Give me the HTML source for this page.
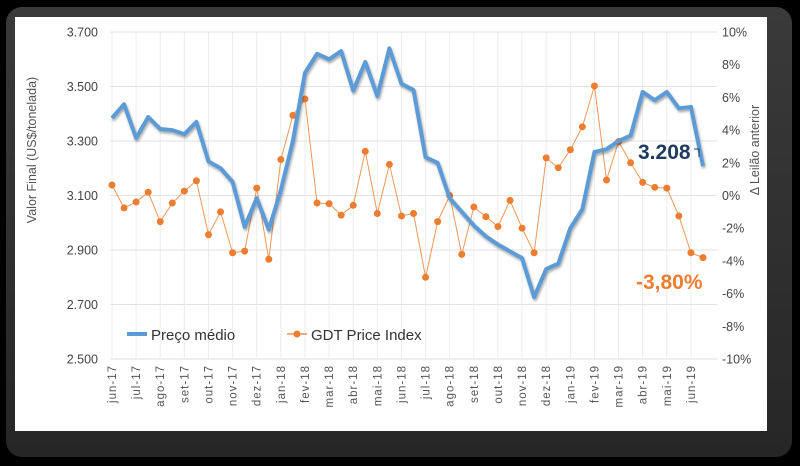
<!DOCTYPE html>
<html><head><meta charset="utf-8"><style>
html,body{margin:0;padding:0;background:#000;}
svg{display:block;}
text{font-family:"Liberation Sans",sans-serif;}
</style></head><body>
<svg id="c" width="800" height="466" viewBox="0 0 800 466" xmlns="http://www.w3.org/2000/svg">
<defs>
<linearGradient id="fr" x1="0" y1="0" x2="0" y2="1"><stop offset="0" stop-color="#3a3a3a"/><stop offset="1" stop-color="#262626"/></linearGradient>
<filter id="sh" x="-5%" y="-5%" width="110%" height="120%"><feDropShadow dx="1" dy="2" stdDeviation="1.2" flood-color="#000" flood-opacity="0.35"/></filter>
</defs>
<rect x="0" y="0" width="800" height="466" fill="#000"/>
<rect x="6" y="7" width="786" height="450" rx="16" fill="url(#fr)"/>
<rect x="15" y="17" width="752" height="414" fill="#fff"/>
<g id="grid"></g>
<g id="axes"></g>
<g id="series"></g>
<text x="36" y="150" transform="rotate(-90 36 150)" text-anchor="middle" font-size="12.5" fill="#555">Valor Final (US$/tonelada)</text>
<text x="759" y="150" transform="rotate(-90 759 150)" text-anchor="middle" font-size="12.5" fill="#555">Δ Leilão anterior</text>
<g>
<g>
<line x1="127" y1="334" x2="147" y2="334" stroke="#5b9bd5" stroke-width="4"/>
<text x="151" y="340" font-size="15" fill="#333">Preço médio</text></g>
<g>
<line x1="287" y1="334" x2="307" y2="334" stroke="#ed7d31" stroke-width="1.2"/>
<circle cx="297" cy="334" r="3.5" fill="#ed7d31"/>
<text x="311" y="340" font-size="15" fill="#333">GDT Price Index</text></g>
</g>
<text x="638" y="159" font-size="21" font-weight="bold" fill="#1f3a5f">3.208</text>
<path d="M694 149 h5 v8" stroke="#1f3a5f" stroke-width="1" fill="none"/>
<text x="636" y="289" font-size="21" font-weight="bold" fill="#ed7d31">-3,80%</text>
</svg>
<script>
const months=["jun-17","jul-17","ago-17","set-17","out-17","nov-17","dez-17","jan-18","fev-18","mar-18","abr-18","mai-18","jun-18","jul-18","ago-18","set-18","out-18","nov-18","dez-18","jan-19","fev-19","mar-19","abr-19","mai-19","jun-19"];
const leftTicks=[2500,2700,2900,3100,3300,3500,3700];
const leftTickLabels=["2.500","2.700","2.900","3.100","3.300","3.500","3.700"];
const rightTicks=[-10,-8,-6,-4,-2,0,2,4,6,8,10];
const precoMedio=[3384,3435,3311,3388,3344,3340,3325,3370,3225,3200,3150,2985,3090,2975,3120,3300,3550,3620,3600,3630,3485,3590,3465,3640,3510,3487,3240,3220,3090,3040,2990,2950,2920,2895,2870,2727,2830,2850,2980,3050,3260,3270,3300,3320,3480,3450,3480,3420,3425,3208];
const gdtIndex=[0.64,-0.76,-0.4,0.2,-1.6,-0.46,0.27,0.9,-2.4,-1.0,-3.5,-3.4,0.45,-3.9,2.2,4.9,5.9,-0.46,-0.5,-1.2,-0.6,2.7,-1.1,1.9,-1.25,-1.1,-5.0,-1.6,0.0,-3.6,-0.7,-1.3,-1.9,-0.3,-2.0,-3.5,2.3,1.7,2.8,4.2,6.7,0.95,3.3,2.0,0.8,0.5,0.45,-1.25,-3.5,-3.8];

const NS="http://www.w3.org/2000/svg";
const X0=112,X1=703,YT=32,YB=359;
const monthStep=24.12;
const xIdx=i=>X0+i*(X1-X0)/(precoMedio.length-1);
const xMonth=k=>X0+k*monthStep;
const yL=v=>YB-(v-2500)/1200*(YB-YT);
const yR=v=>YB-(v+10)/20*(YB-YT);
function mk(tag,attrs,parent){const e=document.createElementNS(NS,tag);for(const k in attrs)e.setAttribute(k,attrs[k]);parent.appendChild(e);return e;}
const grid=document.getElementById('grid'),axes=document.getElementById('axes'),ser=document.getElementById('series');
months.forEach((m,k)=>{
  const x=xMonth(k);
  const g=mk('line',{x1:x,x2:x,y1:YT,y2:YB,stroke:'#ececec','stroke-width':1},grid);
  
  
  const t=mk('text',{x:0,y:0,transform:`translate(${x+4},${YB+6}) rotate(-90)`,'text-anchor':'end','font-size':11.5,fill:'#555','letter-spacing':'1'},axes);
  t.textContent=m;
  
  
});
leftTicks.forEach((v,i)=>{
  const y=yL(v);
  const g=mk('line',{x1:X0-2,x2:717,y1:y,y2:y,stroke:'#e2e2e2','stroke-width':1},grid);
  
  
  const t=mk('text',{x:98,y:y+4.5,'text-anchor':'end','font-size':12.5,fill:'#444'},axes);
  t.textContent=leftTickLabels[i];
  
  
});
rightTicks.forEach(v=>{
  const t=mk('text',{x:722,y:yR(v)+4.5,'font-size':12.5,fill:'#444'},axes);
  t.textContent=v+'%';
  
  
});
const op=mk('polyline',{points:gdtIndex.map((v,i)=>xIdx(i)+','+yR(v)).join(' '),fill:'none',stroke:'#ed7d31','stroke-width':1,opacity:0.8},ser);


gdtIndex.forEach((v,i)=>{
  const c=mk('circle',{cx:xIdx(i),cy:yR(v),r:3.5,fill:'#ed7d31'},ser);
  
  
});
const bl=mk('polyline',{points:precoMedio.map((v,i)=>xIdx(i)+','+yL(v)).join(' '),fill:'none',stroke:'#5b9bd5','stroke-width':4,'stroke-linejoin':'round',filter:'url(#sh)'},ser);


</script>
</body></html>
